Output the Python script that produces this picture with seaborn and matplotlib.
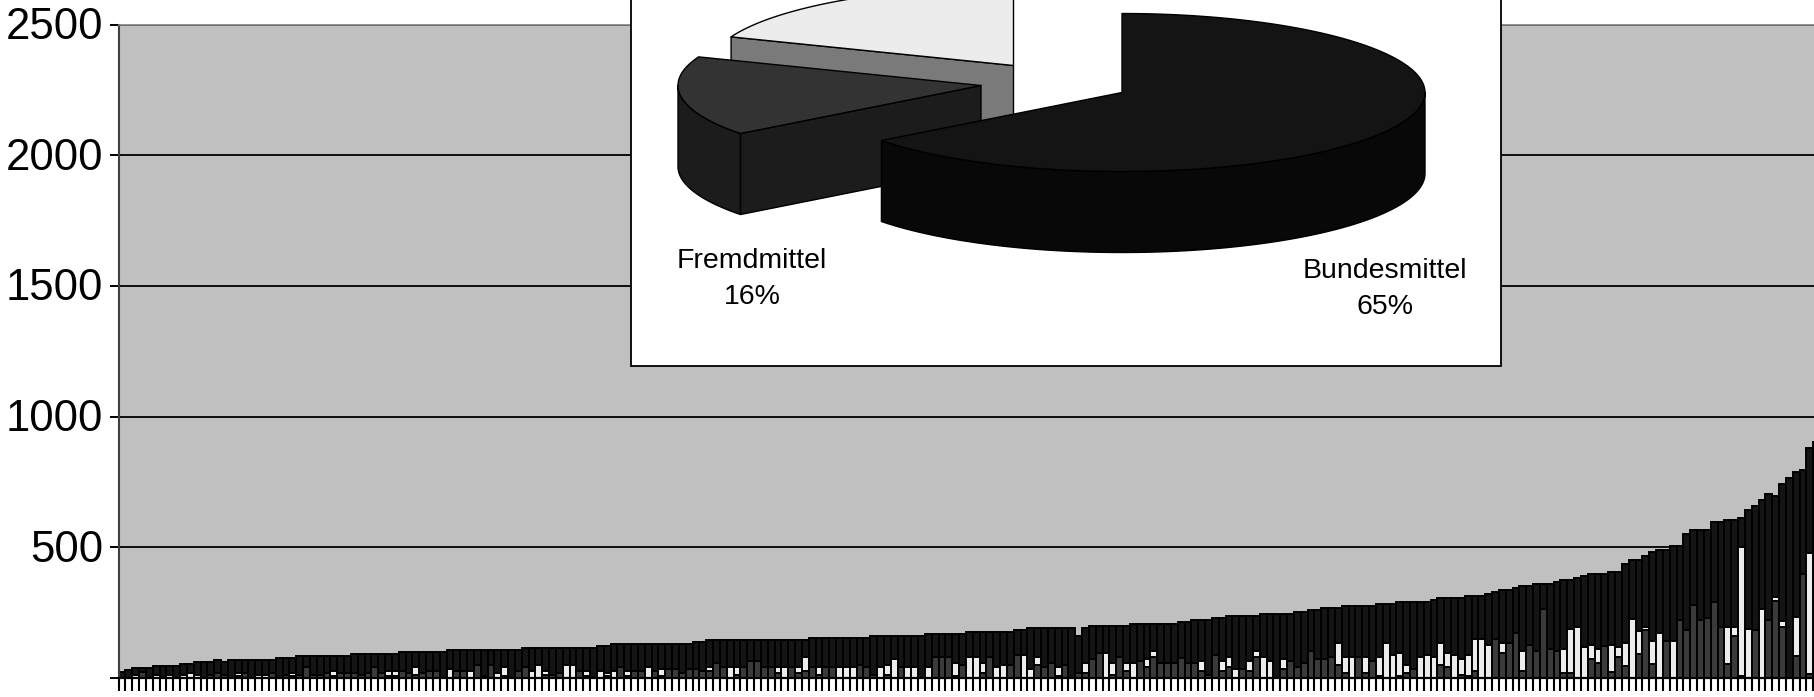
import numpy as np
import matplotlib
matplotlib.use("Agg")
import matplotlib.pyplot as plt
from matplotlib.patches import Rectangle
from matplotlib.transforms import ScaledTranslation
import seaborn as sns

# ---------- bar data (values per institute, sorted by total) ----------
gesamt = [
 23,30,38,38,38,46,46,46,46,53,
 53,61,61,61,68,61,68,68,68,68,
 68,68,68,76,76,76,84,84,84,84,
 84,85,85,85,93,93,93,93,93,93,
 93,100,100,100,100,100,100,100,108,108,
 108,108,108,108,108,108,108,108,108,115,
 115,115,115,115,115,115,115,115,115,115,
 123,123,131,131,131,131,131,131,131,131,
 131,131,131,131,138,138,146,146,146,146,
 146,146,146,146,146,146,146,146,146,146,
 146,154,154,154,154,154,154,154,154,154,
 161,161,161,161,161,161,161,161,169,169,
 169,169,169,169,177,177,177,177,177,177,
 177,184,184,192,192,192,192,192,192,192,
 161,192,199,199,199,199,199,199,207,207,
 207,207,207,207,207,215,215,222,222,222,
 230,230,238,238,238,238,238,245,245,245,
 245,245,253,253,260,260,268,268,268,276,
 276,276,276,276,283,283,283,291,291,291,
 291,291,299,306,306,306,306,314,314,314,
 321,329,337,337,344,352,352,360,360,360,
 367,375,375,383,390,398,398,398,405,405,
 436,451,451,467,482,489,489,505,505,550,
 566,566,566,596,596,604,604,612,642,657,
 680,703,696,741,764,787,795,879,901]
fremd = [
 0,0,0,22,0,0,0,0,0,0,
 0,0,0,12,19,12,0,6,19,0,
 0,0,19,0,12,6,12,42,12,12,
 19,7,19,19,19,12,19,42,19,7,
 7,27,19,12,19,27,27,0,0,27,
 27,0,50,7,50,0,7,0,27,42,
 0,0,12,12,19,0,0,27,7,0,
 0,7,0,42,7,27,27,0,27,7,
 35,35,19,35,35,27,27,57,42,0,
 12,42,65,65,42,42,19,0,42,19,
 27,42,12,42,42,0,0,0,50,42,
 12,0,12,0,42,0,0,0,0,80,
 80,80,7,50,0,0,19,80,0,0,
 50,88,0,0,50,42,57,7,50,0,
 19,19,73,96,0,12,80,27,0,65,
 42,80,57,57,57,75,57,57,27,12,
 88,27,42,0,35,27,80,0,0,0,
 35,65,42,57,103,73,73,80,50,19,
 0,80,19,65,7,0,0,7,19,35,
 0,0,0,50,42,0,12,7,27,0,
 0,149,96,134,172,27,126,103,263,111,
 103,19,19,0,0,73,57,124,22,80,
 45,0,90,182,52,0,141,0,220,182,
 281,220,228,289,197,52,159,8,0,182,
 0,220,294,197,0,83,396,14,6]
sonstige = [
 0,0,12,0,0,12,0,12,0,12,
 19,12,0,0,0,0,0,13,0,0,
 12,12,0,0,0,13,0,0,0,0,
 0,20,0,0,0,0,0,0,0,20,
 20,0,0,30,0,0,0,0,35,0,
 0,27,0,0,0,19,35,0,0,0,
 27,50,15,0,0,50,50,0,20,0,
 27,12,27,0,20,0,0,42,0,28,
 0,0,0,0,0,0,15,0,0,42,
 30,0,0,0,0,0,23,42,0,23,
 53,0,30,0,0,42,42,42,0,0,
 0,42,38,73,0,42,42,0,42,0,
 0,0,50,0,80,80,38,0,42,50,
 0,0,88,35,30,0,0,35,0,0,
 0,38,0,0,96,45,0,30,57,0,
 31,23,0,0,0,0,0,0,38,0,
 0,38,38,35,0,38,23,80,65,0,
 38,0,0,0,0,0,0,0,84,61,
 80,0,61,0,73,134,88,89,31,0,
 80,88,80,84,54,88,61,81,122,149,
 126,0,38,0,0,76,0,0,0,0,
 0,92,168,195,119,53,54,0,104,38,
 89,225,90,13,89,172,0,141,0,0,
 0,0,0,0,0,143,36,492,187,0,
 263,0,15,21,0,150,0,463,0]

y_ticks = [0, 500, 1000, 1500, 2000, 2500]
y_labels = ["", "500", "1000", "1500", "2000", "2500"]

# ---------- pie data ----------
pie_labels = ["Bundesmittel", "Fremdmittel", "Sonstige"]
pie_shares = [64.6, 16.3, 19.1]
pie_top = ["#141414", "#333333", "#ececec"]
pie_wall = ["#080808", "#1c1c1c", "#7a7a7a"]
pie_text = {"Bundesmittel": "65%", "Fremdmittel": "16%"}

W, H = 1814, 697
sns.set_theme(style="white")
plt.rcParams["font.family"] = ["Liberation Sans", "DejaVu Sans"]
fig = plt.figure(figsize=(W / 100, H / 100), dpi=100, facecolor="white")

AX_L, AX_BASE, AX_TOP = 118.5, 678.0, 24.5
ax = fig.add_axes([AX_L / W, (H - AX_BASE) / H, 1 - AX_L / W, (AX_BASE - AX_TOP) / H])
ax.set_facecolor("#c0c0c0")

idx = np.arange(len(gesamt))
gesamt_a = np.array(gesamt)
fremd_a = np.array(fremd)
sonst_a = np.array(sonstige)
BAR = dict(width=1.0, saturation=1, edgecolor="black", linewidth=1.4, errorbar=None, ax=ax)
sns.barplot(x=idx, y=gesamt_a, color="#141414", **BAR)
sns.barplot(x=idx, y=fremd_a + sonst_a, color="#ececec", **BAR)
sns.barplot(x=idx, y=fremd_a, color="#3a3a3a", **BAR)

ax.set_xlabel("")
ax.set_ylabel("")
ax.set_xlim(-0.5, 247.6)
ax.set_ylim(0, 2500)
ax.set_yticks(y_ticks)
ax.set_yticklabels(y_labels)
ax.set_xticks(np.append(-0.5, idx[:-1] + 0.5))
ax.set_xticklabels([])
ax.grid(axis="y", color="black", linewidth=1.3)
ax.grid(axis="x", visible=False)
ax.set_axisbelow(True)
ax.tick_params(axis="y", length=6.7, width=1.4, color="black", labelsize=31.4, labelcolor="black", pad=4.2, left=True)
ax.tick_params(axis="x", length=9.5, width=1.5, color="black", bottom=True, pad=0)
up = ScaledTranslation(0, 1.5 / 100, fig.dpi_scale_trans)
for lab in ax.get_yticklabels():
    lab.set_transform(lab.get_transform() + up)
ax.spines["right"].set_visible(False)
ax.spines["top"].set_color("#808080")
ax.spines["top"].set_linewidth(1.2)
ax.spines["left"].set_color("#404040")
ax.spines["left"].set_linewidth(1.5)
ax.spines["bottom"].set_color("black")
ax.spines["bottom"].set_linewidth(1.6)

# ---------- inset panel with the pseudo 3-D pie ----------
ov = fig.add_axes([0, 0, 1, 1], zorder=5)
ov.set_xlim(0, W)
ov.set_ylim(H, 0)
ov.axis("off")
ov.patch.set_alpha(0)
ov.add_patch(Rectangle((631, -60), 870, 426, facecolor="white", edgecolor="black", linewidth=1.3))

CX, CY, RA, RB, DEPTH = 1122, 92.5, 303, 79, 81
explode = {"Bundesmittel": (0, 0), "Fremdmittel": (-141, -7), "Sonstige": (-108.5, -27)}


def rim(theta, tip):
    t = np.radians(theta)
    return tip[0] + RA * np.sin(t), tip[1] - RB * np.cos(t)


def draw_slice(name, start, end, top, wall):
    ex = explode[name]
    tip = (CX + ex[0], CY + ex[1])
    style = dict(edgecolor="black", linewidth=1.0, joinstyle="round")
    if 180 < start < 360:
        rx, ry = rim(start, tip)
        ov.fill([tip[0], rx, rx, tip[0]], [tip[1], ry, ry + DEPTH, tip[1] + DEPTH], facecolor=wall, **style)
    lo, hi = max(start, 90), min(end, 270)
    if hi > lo:
        th = np.linspace(lo, hi, 80)
        xs, ys = rim(th, tip)
        ov.fill(np.r_[xs, xs[::-1]], np.r_[ys, ys[::-1] + DEPTH], facecolor=wall, **style)
    th = np.linspace(start, end, 160)
    xs, ys = rim(th, tip)
    ov.fill(np.r_[tip[0], xs], np.r_[tip[1], ys], facecolor=top, **style)


cum = np.cumsum([0] + pie_shares) * 3.6
slices = list(zip(pie_labels, cum[:-1], cum[1:], pie_top, pie_wall))
for name, a0, a1, c_top, c_wall in slices[::-1]:
    draw_slice(name, a0, a1, c_top, c_wall)

ov.text(752, 279.5, "Fremdmittel\n" + pie_text["Fremdmittel"], ha="center", va="center",
        fontsize=20.5, color="black", linespacing=1.5)
ov.text(1385, 289.5, "Bundesmittel\n" + pie_text["Bundesmittel"], ha="center", va="center",
        fontsize=20.5, color="black", linespacing=1.5)

fig.savefig("out.png", dpi=100, facecolor="white")
